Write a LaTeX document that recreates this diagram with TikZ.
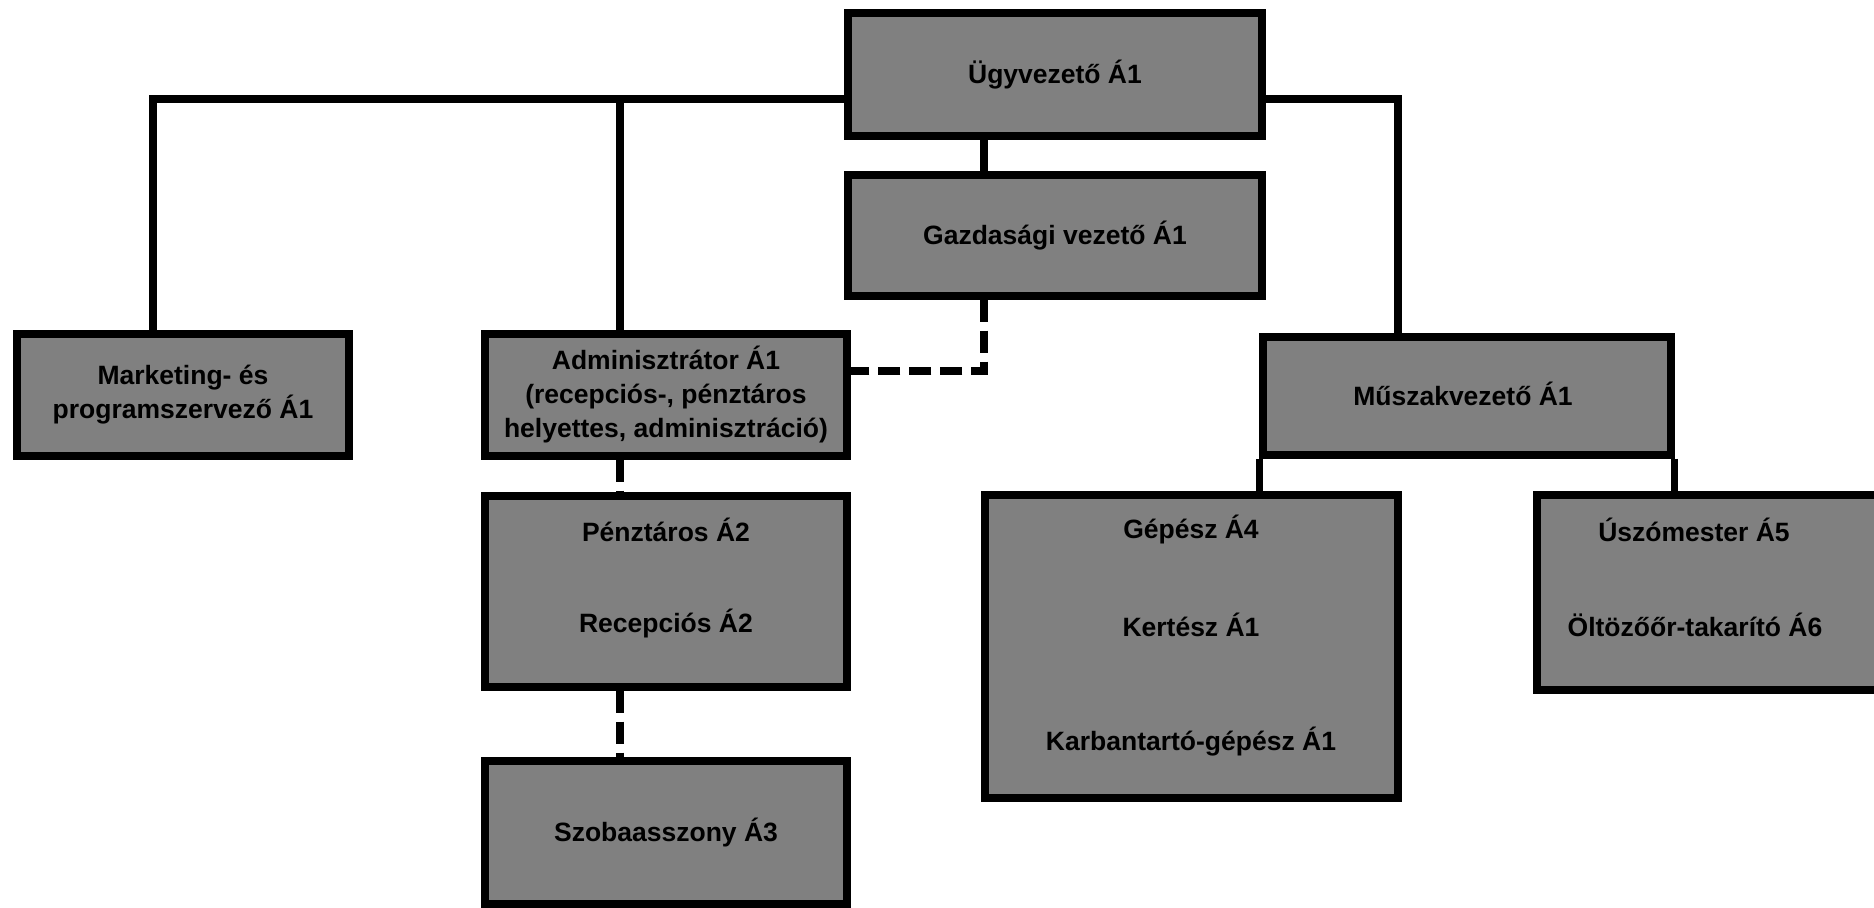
\documentclass[tikz,border=0pt]{standalone}
\usepackage{fontspec}
\setmainfont{Liberation Sans}
\begin{document}
\begin{tikzpicture}[x=0.5pt,y=-0.5pt,
  box/.style={draw=black,fill=boxgray,line width=3.6pt,inner sep=0pt,align=center,
    font=\fontsize{13.25}{17}\selectfont\bfseries,text=black},
  txt/.style={inner sep=0pt,align=center,font=\fontsize{13.25}{17}\selectfont\bfseries,text=black},
  conn/.style={draw=black,line width=3.6pt},
  dconn/.style={draw=black,line width=3.6pt,dash pattern=on 11pt off 4.5pt}]
\definecolor{boxgray}{RGB}{128,128,128}
\useasboundingbox (0,0) rectangle (1874,908);
\begin{scope}
\clip (0,0) rectangle (1874,908);
% junction coordinates
\coordinate (jl) at (153,99);
\coordinate (ja) at (620,99);
\coordinate (jr) at (1398,99);
\coordinate (jg) at (984,99);
\coordinate (jd) at (984,371);

% connectors (drawn first, boxes on top)
\draw[conn] (1055,99) -- (jl) -- (153,395);
\draw[conn] (ja) -- (620,395);
\draw[conn] (1055,99) -- (jr) -- (1398,396);
\draw[conn] (jg |- 0,74) -- (984,236);

% boxes
\node[box,minimum width=207pt,minimum height=61.5pt] (ugy) at (1055,74.5) {Ügyvezető Á1};
\node[box,minimum width=207pt,minimum height=60.5pt] (gaz) at (1055,235.5) {Gazdasági vezető Á1};
\node[box,minimum width=166pt,minimum height=61pt] (mkt) at (183,395) {Marketing- és\\programszervező Á1};
\node[box,minimum width=181pt,minimum height=61pt] (adm) at (666,395) {Adminisztrátor Á1\\(recepciós-, pénztáros\\helyettes, adminisztráció)};
\node[box,minimum width=181pt,minimum height=95.5pt] (pen) at (666,591.5) {};
\node[box,minimum width=181pt,minimum height=71.5pt] (szo) at (666,832.5) {Szobaasszony Á3};
\node[box,minimum width=204pt,minimum height=59pt] (mus) at (1467,396) {};
\node[txt] (mustxt) at (1463,394) {Műszakvezető Á1};
\node[box,minimum width=206.5pt,minimum height=151.5pt] (gep) at (1191.5,646.5) {};
\node[box,minimum width=181.5pt,minimum height=97.5pt] (usz) at (1718.5,592.5) {};

% texts inside multi-entry boxes
\node[txt] (pen1) at (666,530) {Pénztáros Á2};
\node[txt] (pen2) at (666,624) {Recepciós Á2};
\node[txt] (gep1) at (1191,530) {Gépész Á4};
\node[txt] (gep2) at (1191,625) {Kertész Á1};
\node[txt] (gep3) at (1191,742) {Karbantartó-gépész Á1};
\node[txt] (usz1) at (1694,530) {Úszómester Á5};
\node[txt] (usz2) at (1695,625) {Öltözőőr-takarító Á6};

% connectors between boxes
\draw[conn] (jg |- ugy.south) -- (jg |- gaz.north);
\draw[conn] (mus.south west) -- (mus.south west |- gep.north);
\draw[conn] (mus.south east) -- (mus.south east |- usz.north);
\draw[dconn] (jg |- gaz.south) -- (jd) -- (jd -| adm.east);
\draw[dconn] (ja |- adm.south) -- (ja |- pen.north);
\draw[dconn] (ja |- pen.south) -- (ja |- szo.north);
\end{scope}
\end{tikzpicture}
\end{document}
